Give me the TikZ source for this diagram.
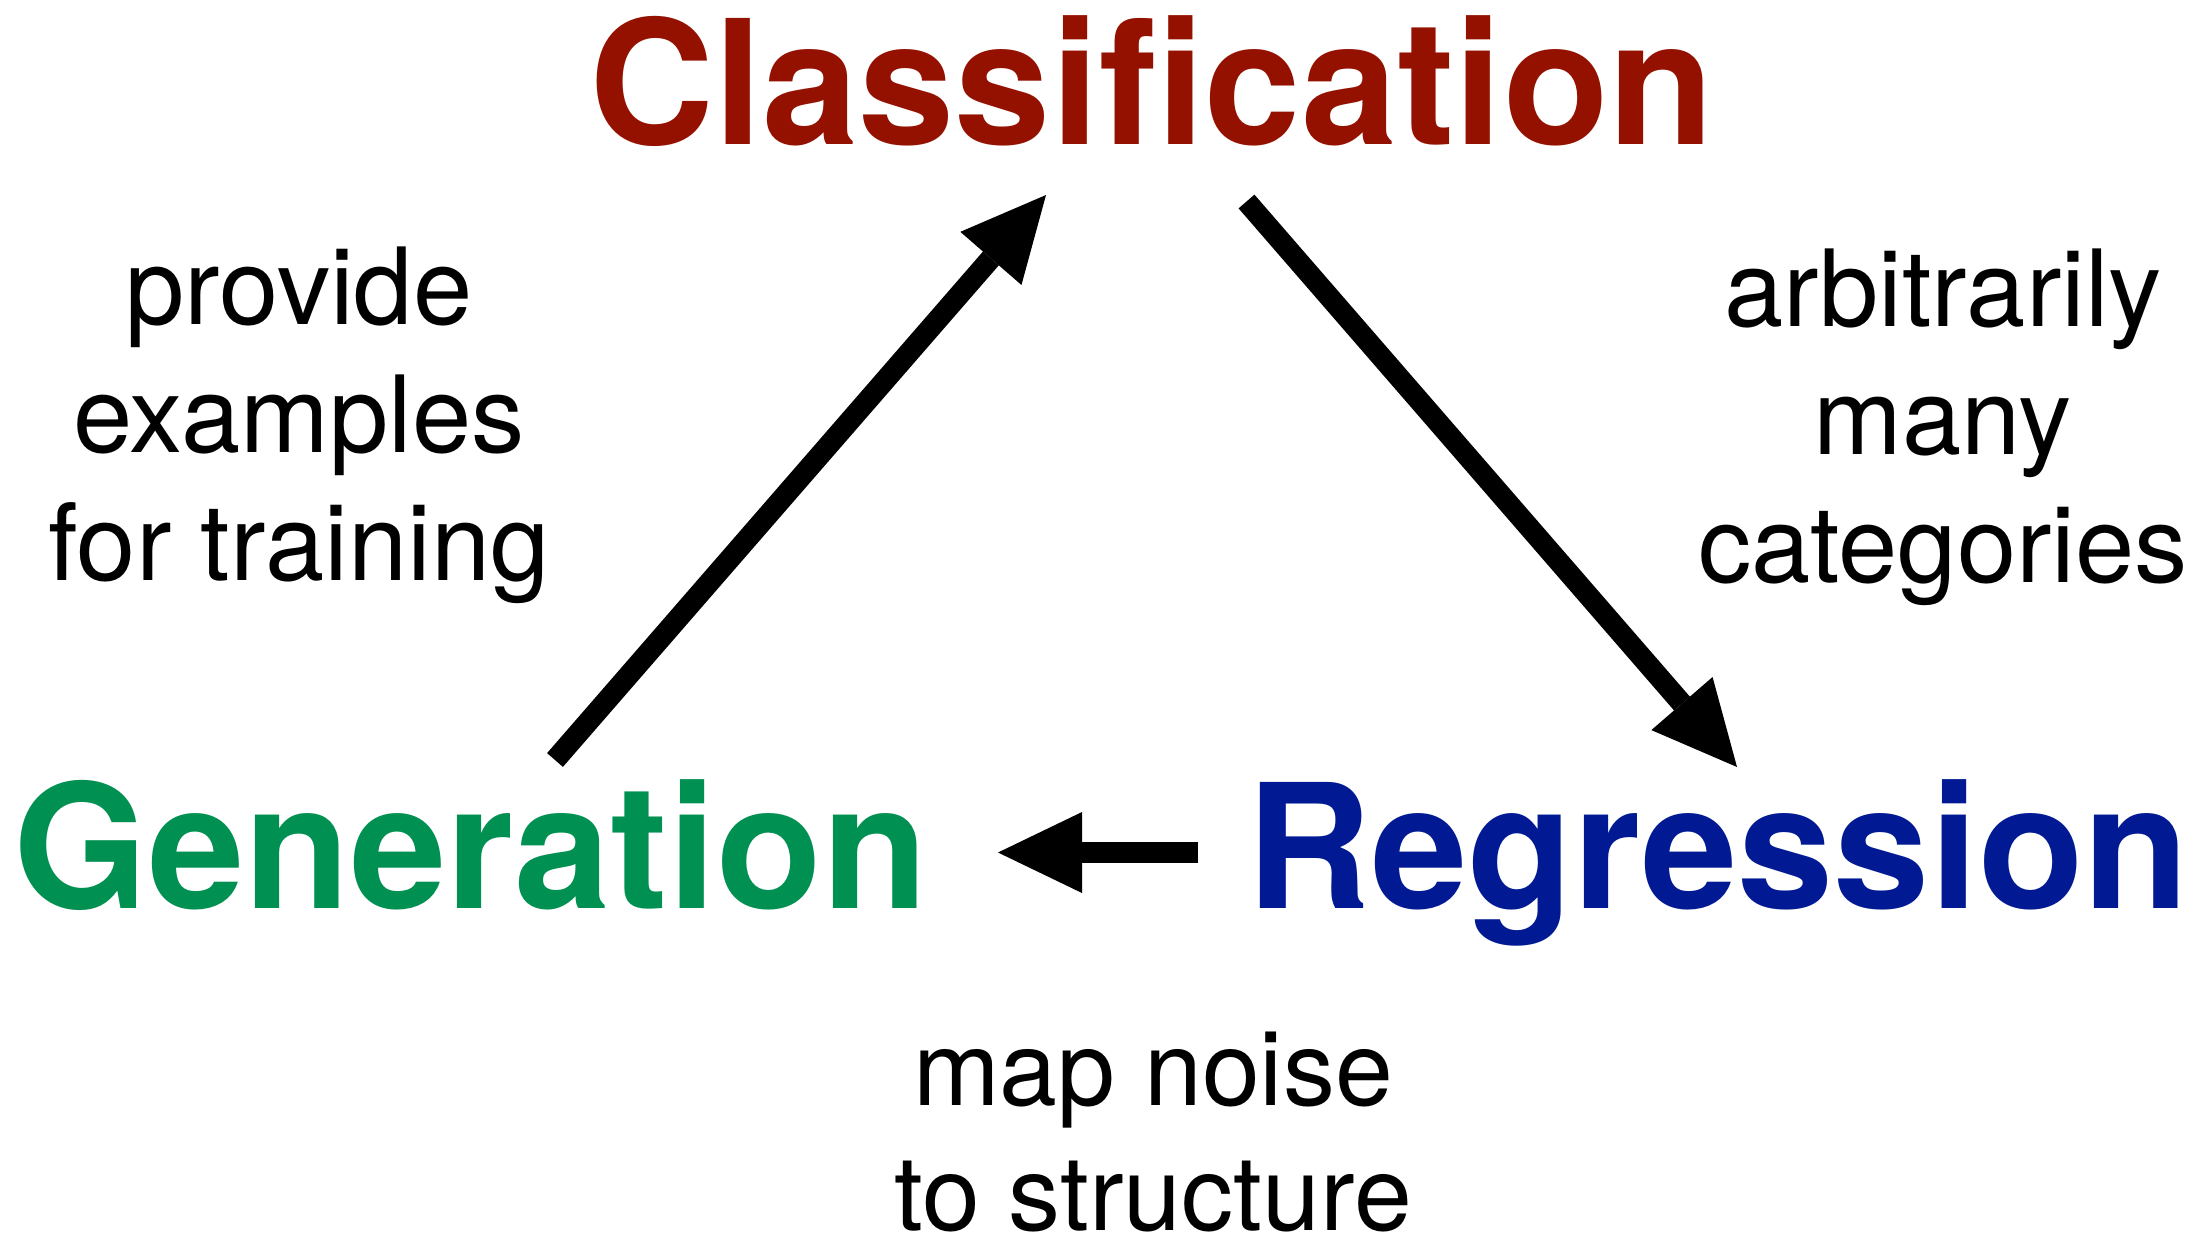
\documentclass[tikz,border=0pt]{standalone}
\usepackage{fontspec}
\setmainfont{TeX Gyre Heros}
\usetikzlibrary{arrows.meta}
\definecolor{cayenne}{HTML}{941100}
\definecolor{moss}{HTML}{009051}
\definecolor{midnight}{HTML}{011993}
\begin{document}
\begin{tikzpicture}[x=1pt,y=-1pt,
  title/.style={font=\fontsize{173}{200}\selectfont\bfseries, anchor=base, inner sep=0pt},
  note/.style={font=\fontsize{106.5}{128}\selectfont, align=center, anchor=base, inner sep=0pt},
  smallnote/.style={note, font=\fontsize{104}{125}\selectfont},
  bigarrow/.style={line width=21pt, -{Triangle[length=84pt,width=81pt,line width=0pt]}}]
\useasboundingbox (0,0) rectangle (2209,1235);
\fill[white] (0,0) rectangle (2209,1235);
% titles
\node[title, text=cayenne] (cls) at (1152,144) {Classification};
\node[title, text=moss] (gen) at (471,908) {Generation};
\node[title, text=midnight] (reg) at (1718,908) {Regression};
% notes (anchor = baseline of the last line)
\node[note] (n1) at (299,580) {provide\\examples\\for training};
\node[note] (n2) at (1943,582) {arbitrarily\\many\\categories};
\node[smallnote] (n3) at (1153,1230) {map noise\\to structure};
% arrow end points
\coordinate (g1) at (555,760);
\coordinate (c1) at (1046,195);
\coordinate (c2) at (1246.5,201.5);
\coordinate (r1) at (1737,767);
\coordinate (r2) at (1198,852.5);
\coordinate (g2) at (998,852.5);
\draw[bigarrow] (g1) -- (c1);
\draw[bigarrow] (c2) -- (r1);
\draw[bigarrow] (r2) -- (g2);
\end{tikzpicture}
\end{document}
